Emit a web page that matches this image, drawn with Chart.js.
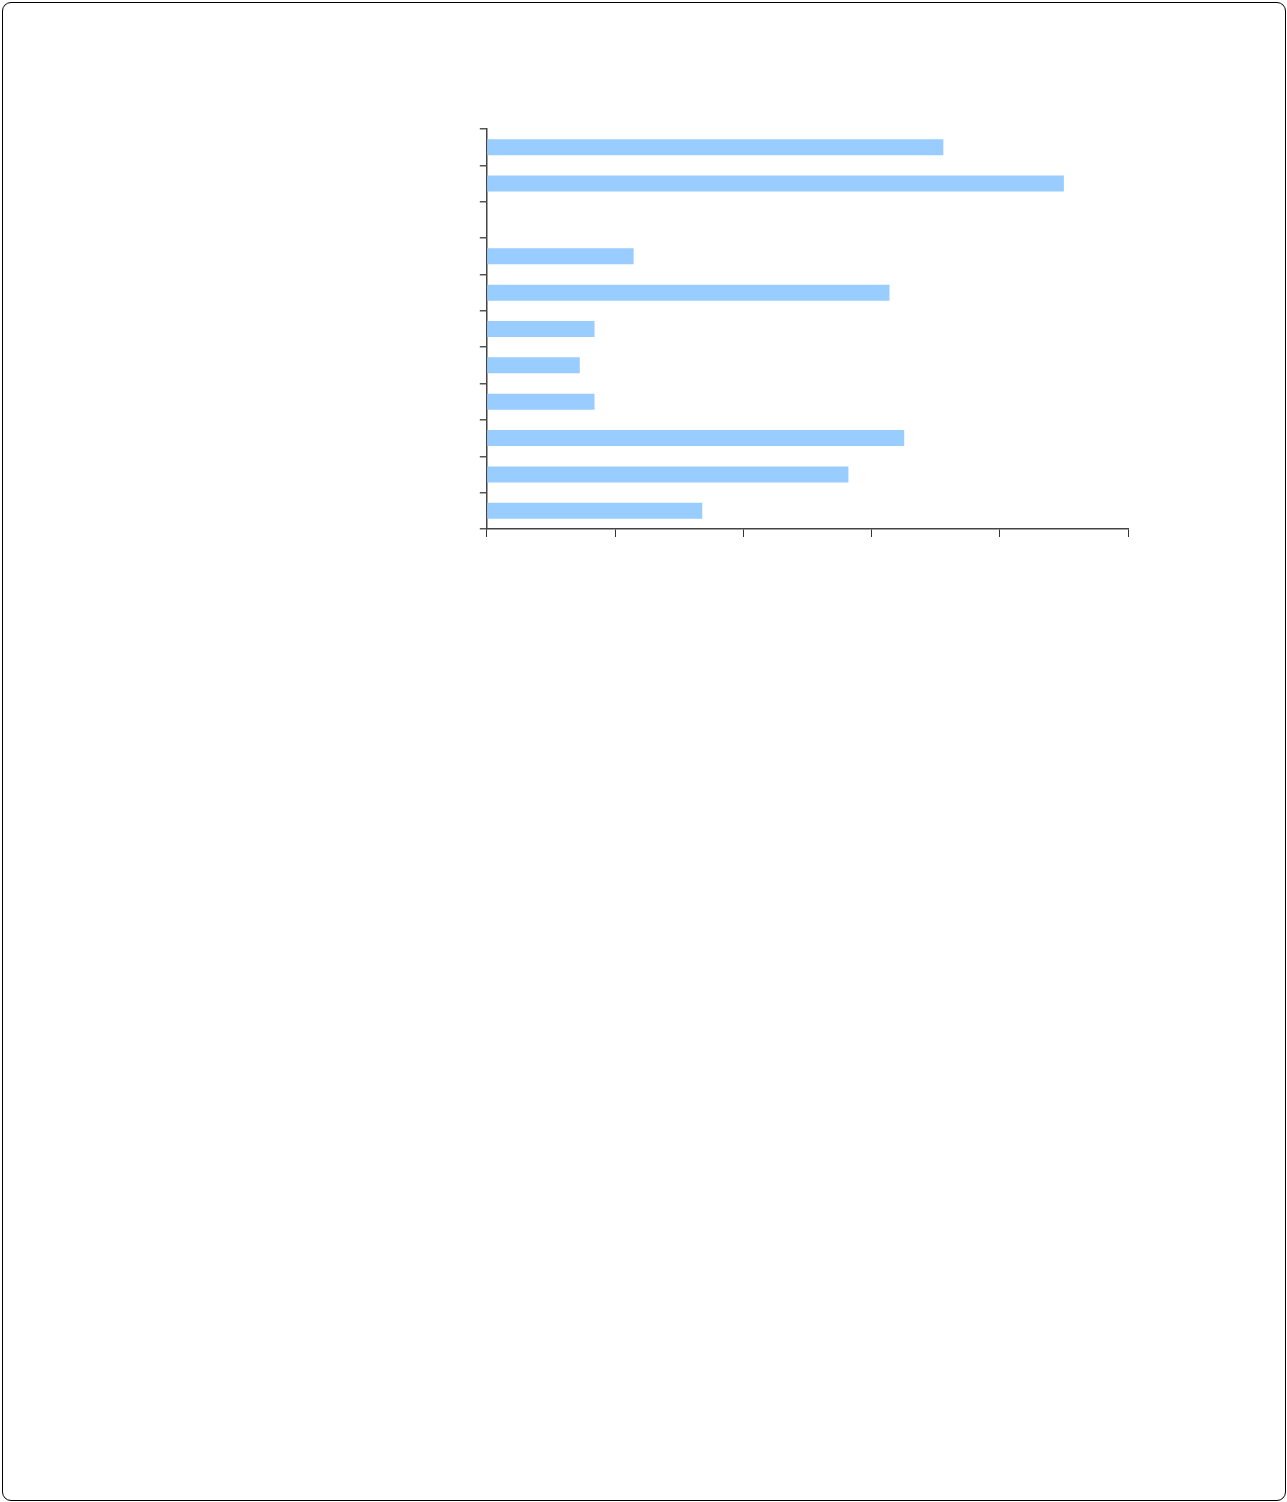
<!DOCTYPE html>
<html>
<head>
<meta charset="utf-8">
<script src="https://cdn.jsdelivr.net/npm/chart.js@4.4.1/dist/chart.umd.min.js"></script>
<style>
  html, body { margin: 0; padding: 0; background: #fff; }
  #frame { position: absolute; left: 2px; top: 2px; width: 1284px; height: 1499px; box-sizing: border-box;
           border: 1.5px solid #000; border-radius: 9px; }
  #wrap { position: absolute; left: 0; top: 0; width: 1287px; height: 1502px; }
</style>
</head>
<body>
<div id="frame"></div>
<div id="wrap"><canvas id="c" width="1287" height="1502"></canvas></div>
<script>
const categories = ['1', '2', '3', '4', '5', '6', '7', '8', '9', '10', '11'];
const values = [71.2, 90.0, null, 22.9, 62.8, 16.8, 14.5, 16.8, 65.1, 56.4, 33.6];
const xTicks = [0, 20, 40, 60, 80, 100];

new Chart(document.getElementById('c'), {
  type: 'bar',
  data: {
    labels: categories,
    datasets: [{
      data: values,
      backgroundColor: '#99CCFF',
      borderWidth: 0,
      barPercentage: 0.44,
      categoryPercentage: 1.0
    }]
  },
  options: {
    indexAxis: 'y',
    responsive: false,
    animation: false,
    layout: { padding: { left: 479.8, top: 129, right: 159, bottom: 965 } },
    plugins: { legend: { display: false }, tooltip: { enabled: false } },
    scales: {
      x: {
        min: xTicks[0],
        max: xTicks[xTicks.length - 1],
        ticks: { display: false, stepSize: xTicks[1] - xTicks[0] },
        grid: { drawOnChartArea: false, drawTicks: true, tickLength: 8, color: '#333', lineWidth: 1 },
        border: { display: true, color: '#444', width: 1.5 }
      },
      y: {
        ticks: { display: false },
        grid: { drawOnChartArea: false, drawTicks: true, tickLength: 7, color: '#555', lineWidth: 1.5, offset: true },
        border: { display: true, color: '#444', width: 1.5 }
      }
    }
  }
});
</script>
</body>
</html>
